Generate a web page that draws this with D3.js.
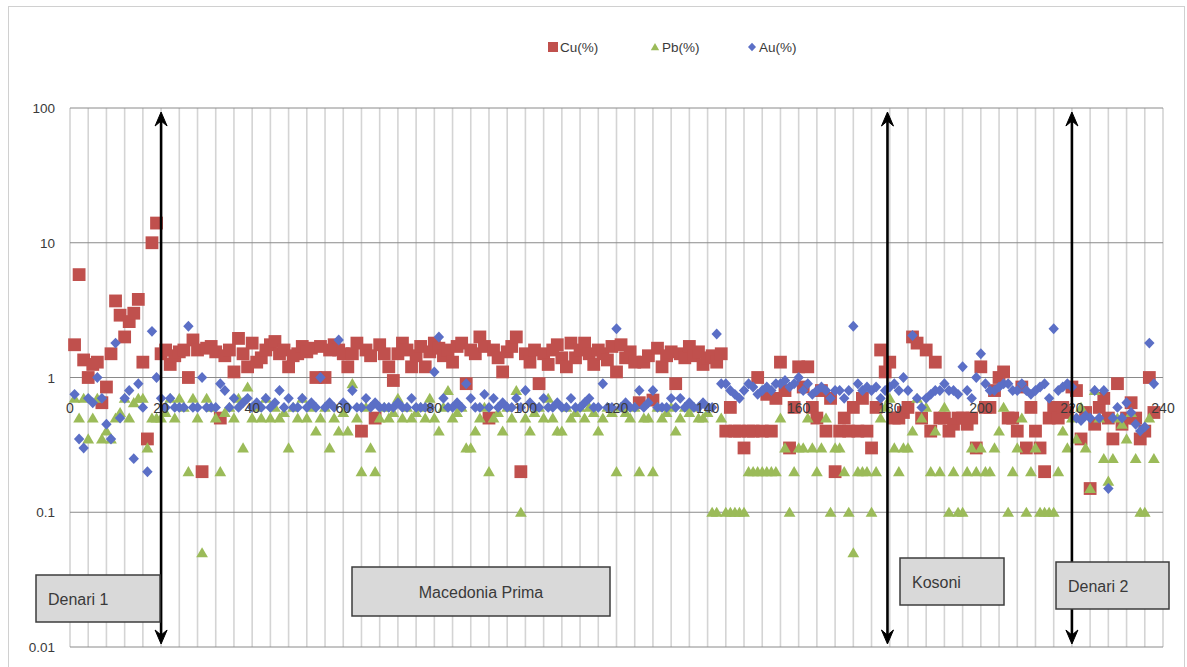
<!DOCTYPE html>
<html>
<head>
<meta charset="utf-8">
<script src="https://cdn.jsdelivr.net/npm/d3@7"></script>
<style>
  body { margin: 0; background: #fff; }
  svg text { font-family: "Liberation Sans", Arial, sans-serif; fill: #3a3a3a; }
</style>
</head>
<body>
<div id="chart"></div>
<script>
// sample values, sample number = index + 1
const cu = [
  1.75, 5.8, 1.35, 1.0, 1.25, 1.3, 0.65, 0.85, 1.5, 3.7, 2.9, 2.0, 2.6, 3.0, 3.8, 1.3, 0.35, 10, 14,
  1.5, 1.6, 1.25, 1.45, 1.55, 1.6, 1.0, 1.9, 1.6, 0.2, 1.65, 1.7, 1.55, 0.5, 1.45, 1.6, 1.1, 1.95, 1.5, 1.2, 1.8,
  1.3, 1.4, 1.6, 1.75, 1.85, 1.5, 1.6, 1.2, 1.45, 1.5, 1.7, 1.55, 1.65, 1.0, 1.7, 1.0, 1.6, 1.75, 1.6, 1.5,
  1.2, 1.5, 1.8, 0.4, 1.6, 1.45, 0.5, 1.75, 1.5, 1.2, 0.95, 1.5, 1.8, 1.6, 1.2, 1.45, 1.7, 1.2, 1.55, 1.8,
  1.65, 1.45, 1.6, 1.3, 1.7, 1.8, 0.9, 1.6, 1.5, 2.0, 1.7, 0.5, 1.6, 1.4, 1.1, 1.55, 1.7, 2.0, 0.2, 1.5,
  1.3, 1.6, 0.9, 1.5, 1.25, 1.6, 1.75, 1.4, 1.2, 1.8, 1.4, 1.6, 1.8, 1.5, 1.25, 1.6, 1.5, 1.35, 1.7, 1.1,
  1.75, 1.4, 1.55, 1.3, 0.65, 1.3, 1.45, 0.68, 1.65, 1.2, 1.45, 1.55, 0.9, 1.5, 1.4, 1.7, 1.45, 1.55, 1.25, 1.4,
  1.45, 1.3, 1.5, 0.4, 0.6, 0.4, 0.4, 0.3, 0.4, 0.4, 1.0, 0.4, 0.75, 0.4, 0.7, 1.3, 0.8, 0.3, 0.6, 1.2,
  0.85, 1.2, 0.6, 0.5, 0.8, 0.4, 0.7, 0.2, 0.4, 0.5, 0.4, 0.6, 0.4, 0.7, 0.4, 0.3, 0.6, 1.6, 1.1, 1.3,
  0.5, 0.5, 0.55, 0.6, 2.0, 1.8, 0.5, 1.6, 0.4, 1.3, 0.5, 0.5, 0.4, 0.45, 0.5, 0.5, 0.45, 0.5, 0.3, 1.2,
  0.6, 0.6, 0.8, 1.0, 1.1, 0.5, 0.5, 0.4, 0.85, 0.3, 0.6, 0.4, 0.3, 0.2, 0.5, 0.6, 0.5, 0.6, 0.55, 0.85,
  0.8, 0.35, 0.55, 0.15, 0.45, 0.6, 0.7, 0.5, 0.35, 0.9, 0.45, 0.5, 0.65, 0.5, 0.35, 0.4, 1.0, 0.55
];
const pb = [
  0.7, 0.5, 0.7, 0.35, 0.5, 0.7, 0.35, 0.4, 0.35, 0.5, 0.55, 0.7, 0.5, 0.65, 0.7, 0.7, 0.3, 0.5, 0.5,
  0.5, 0.55, 0.7, 0.5, 0.7, 0.6, 0.2, 0.7, 0.5, 0.05, 0.7, 0.6, 0.5, 0.2, 0.55, 0.6, 0.5, 0.7, 0.3, 0.85, 0.5,
  0.6, 0.5, 0.7, 0.5, 0.6, 0.5, 0.55, 0.3, 0.6, 0.5, 0.7, 0.5, 0.6, 0.4, 0.5, 0.6, 0.3, 0.5, 0.4, 0.55,
  0.4, 0.9, 0.5, 0.2, 0.6, 0.3, 0.2, 0.5, 0.6, 0.5, 0.55, 0.7, 0.5, 0.6, 0.5, 0.55, 0.6, 0.5, 0.7, 0.5,
  0.4, 0.6, 0.8, 0.5, 0.55, 0.6, 0.3, 0.3, 0.4, 0.5, 0.6, 0.2, 0.5, 0.55, 0.4, 0.6, 0.5, 0.8, 0.1, 0.5,
  0.4, 0.55, 0.6, 0.5, 0.7, 0.5, 0.4, 0.4, 0.6, 0.5, 0.55, 0.6, 0.5, 0.6, 0.55, 0.4, 0.5, 0.6, 0.55, 0.2,
  0.6, 0.55, 0.5, 0.6, 0.2, 0.5, 0.5, 0.2, 0.6, 0.5, 0.55, 0.6, 0.4, 0.5, 0.6, 0.55, 0.6, 0.5, 0.5, 0.55,
  0.1, 0.1, 0.5, 0.1, 0.1, 0.1, 0.1, 0.1, 0.2, 0.2, 0.2, 0.2, 0.2, 0.2, 0.2, 0.5, 0.3, 0.1, 0.2, 0.3,
  0.3, 0.5, 0.3, 0.2, 0.3, 0.5, 0.1, 0.3, 0.3, 0.2, 0.1, 0.05, 0.2, 0.2, 0.2, 0.1, 0.2, 0.5, 0.6, 0.7,
  0.3, 0.2, 0.3, 0.3, 0.4, 0.7, 0.5, 0.6, 0.2, 0.4, 0.2, 0.6, 0.1, 0.2, 0.1, 0.1, 0.2, 0.3, 0.2, 0.3,
  0.2, 0.2, 0.3, 0.4, 0.6, 0.1, 0.2, 0.3, 0.5, 0.1, 0.2, 0.3, 0.1, 0.1, 0.1, 0.1, 0.2, 0.4, 0.3, 0.5,
  0.35, 0.6, 0.3, 0.15, 0.8, 0.5, 0.25, 0.17, 0.25, 0.5, 0.45, 0.35, 0.55, 0.25, 0.1, 0.1, 0.5, 0.25
];
const au = [
  0.75, 0.35, 0.3, 0.7, 0.65, 1.0, 0.7, 0.45, 0.35, 1.8, 0.5, 0.7, 0.8, 0.25, 0.9, 0.6, 0.2, 2.2, 1.0,
  0.7, 0.6, 0.7, 0.6, 0.6, 0.6, 2.4, 0.6, 0.6, 1.0, 0.6, 0.6, 0.6, 0.9, 0.8, 0.6, 0.7, 0.6, 0.65, 0.7, 0.6,
  0.65, 0.6, 0.7, 0.6, 0.65, 0.8, 0.6, 0.7, 0.6, 0.6, 0.7, 0.6, 0.65, 0.6, 1.0, 0.6, 0.65, 0.6, 1.9, 0.65,
  0.6, 0.8, 0.6, 0.6, 0.7, 0.6, 0.65, 0.6, 0.6, 0.6, 0.6, 0.65, 0.6, 0.6, 0.7, 0.6, 0.6, 0.6, 0.6, 1.1,
  2.0, 0.7, 0.6, 0.6, 0.65, 0.6, 0.9, 0.7, 0.6, 0.6, 0.75, 0.6, 0.7, 0.6, 0.65, 0.6, 0.6, 0.7, 0.6, 0.8,
  0.65, 0.6, 0.6, 0.7, 0.6, 0.6, 0.65, 0.6, 0.6, 0.7, 0.6, 0.6, 0.65, 0.7, 0.6, 0.6, 0.9, 0.6, 0.6, 2.3,
  0.6, 0.65, 0.6, 0.6, 0.8, 0.6, 0.65, 0.8, 0.6, 0.6, 0.6, 0.7, 0.6, 0.7, 0.6, 0.65, 0.6, 0.6, 0.65, 0.6,
  0.6, 2.1, 0.9, 0.9, 0.8, 0.75, 0.7, 0.8, 0.9, 0.85, 0.75, 0.8, 0.85, 0.8, 0.9, 0.9, 0.95, 0.85, 0.9, 1.0,
  0.8, 0.9, 0.75, 0.8, 0.85, 0.8, 0.7, 0.8, 0.8, 0.7, 0.8, 2.4, 0.9, 0.8, 0.85, 0.8, 0.85, 0.7, 0.8, 0.85,
  0.9, 0.8, 1.0, 0.8, 2.05, 0.7, 0.6, 0.7, 0.75, 0.8, 0.8, 0.9, 0.8, 0.8, 0.75, 1.2, 0.8, 0.7, 1.0, 1.5,
  0.9, 0.8, 0.8, 0.85, 0.9, 0.9, 0.8, 0.8, 0.9, 0.8, 0.75, 0.8, 0.85, 0.9, 0.7, 2.3, 0.8, 0.85, 0.9, 0.85,
  0.5, 0.48, 0.52, 0.5, 0.8, 0.5, 0.8, 0.15, 0.5, 0.6, 0.5, 0.65, 0.55, 0.45, 0.4, 0.43, 1.8, 0.9
];
const seriesNames = ["Cu(%)", "Pb(%)", "Au(%)"];
const xTicks = [0, 20, 40, 60, 80, 100, 120, 140, 160, 180, 200, 220, 240];
const yTicks = [0.01, 0.1, 1, 10, 100];
const zoneBounds = [20, 179.5, 220];
const zoneNames = ["Denari 1", "Macedonia Prima", "Kosoni", "Denari 2"];

const W = 1187, H = 667;
const colors = { "Cu(%)": "#c0504d", "Pb(%)": "#9bbb59", "Au(%)": "#5b6fc6" };

const svg = d3.select("#chart").append("svg").attr("width", W).attr("height", H);

// outer chart frame
svg.append("rect").attr("x", 8.5).attr("y", 6.5).attr("width", 1176).attr("height", 670)
  .attr("fill", "#fff").attr("stroke", "#d0d0d0");

const x = d3.scaleLinear().domain([0, 240]).range([70, 1163]);
const y = d3.scaleLog().domain([0.01, 100]).range([647, 108]);

// vertical grid every 4 samples
svg.append("g").selectAll("line").data(d3.range(0, 241, 4)).enter().append("line")
  .attr("x1", d => x(d)).attr("x2", d => x(d)).attr("y1", y(100)).attr("y2", y(0.01))
  .attr("stroke", "#d4d4d4").attr("stroke-width", 1.6);

// horizontal grid at decades
svg.append("g").selectAll("line").data(yTicks).enter().append("line")
  .attr("x1", x(0)).attr("x2", x(240)).attr("y1", d => y(d)).attr("y2", d => y(d))
  .attr("stroke", "#8a8a8a").attr("stroke-width", 1);

// y labels
svg.append("g").selectAll("text").data(yTicks).enter().append("text")
  .attr("x", 55).attr("y", d => y(d) + 5).attr("text-anchor", "end")
  .attr("font-size", 13.5).text(d => d3.format("~g")(d));

// marker shapes
function shape(name, s) {
  if (name === "Cu(%)") return `M${-s},${-s}h${2 * s}v${2 * s}h${-2 * s}Z`;
  if (name === "Pb(%)") return `M0,${-s}L${s * 1.05},${s * 0.8}L${-s * 1.05},${s * 0.8}Z`;
  return `M0,${-s * 1.05}L${s},0L0,${s * 1.05}L${-s},0Z`;
}
const sizes = { "Cu(%)": 6.4, "Pb(%)": 5.6, "Au(%)": 5.2 };

const series = [cu, pb, au];
series.forEach((vals, k) => {
  const name = seriesNames[k];
  svg.append("g").selectAll("path").data(vals).enter().append("path")
    .attr("transform", (d, i) => `translate(${x(i + 1)},${y(d)})`)
    .attr("d", shape(name, sizes[name]))
    .attr("fill", colors[name]);
});

// x labels, axis crosses at 1 (drawn over the markers)
svg.append("g").selectAll("text").data(xTicks).enter().append("text")
  .attr("x", d => x(d)).attr("y", y(1) + 35).attr("text-anchor", "middle")
  .attr("font-size", 14).attr("fill", "#222").text(d => d);

// legend
const legX = [553, 655, 752];
seriesNames.forEach((name, k) => {
  const g = svg.append("g").attr("transform", `translate(${legX[k]},47)`);
  g.append("path").attr("d", shape(name, k === 0 ? 5 : 4)).attr("fill", colors[name]);
  g.append("text").attr("x", 7).attr("y", 5).attr("font-size", 13.5).attr("fill", "#595959").text(name);
});

// zone arrows
const arrowTop = 112, arrowBot = 644;
zoneBounds.forEach(b => {
  const g = svg.append("g").attr("transform", `translate(${x(b)},0)`);
  g.append("line").attr("x1", 0).attr("x2", 0).attr("y1", arrowTop + 6).attr("y2", arrowBot - 6)
    .attr("stroke", "#000").attr("stroke-width", 2.6);
  g.append("path").attr("d", `M0,${arrowTop}L6,${arrowTop + 14}L0,${arrowTop + 9}L-6,${arrowTop + 14}Z`)
    .attr("fill", "#000").attr("stroke", "#000").attr("stroke-width", 1);
  g.append("path").attr("d", `M0,${arrowBot}L6,${arrowBot - 14}L0,${arrowBot - 9}L-6,${arrowBot - 14}Z`)
    .attr("fill", "#000").attr("stroke", "#000").attr("stroke-width", 1);
});

// zone label boxes
const boxes = [
  { x: 36, y: 575, w: 124, h: 47, tx: 48, anchor: "start" },
  { x: 352, y: 567, w: 258, h: 49, tx: 481, anchor: "middle" },
  { x: 900, y: 558, w: 104, h: 47, tx: 912, anchor: "start" },
  { x: 1056, y: 562, w: 113, h: 47, tx: 1068, anchor: "start" }
];
boxes.forEach((b, k) => {
  svg.append("rect").attr("x", b.x).attr("y", b.y).attr("width", b.w).attr("height", b.h)
    .attr("fill", "#d9d9d9").attr("stroke", "#3c3c3c").attr("stroke-width", 1.5);
  svg.append("text").attr("x", b.tx).attr("y", b.y + b.h / 2 + 6).attr("text-anchor", b.anchor)
    .attr("font-size", 16).text(zoneNames[k]);
});
</script>
</body>
</html>
